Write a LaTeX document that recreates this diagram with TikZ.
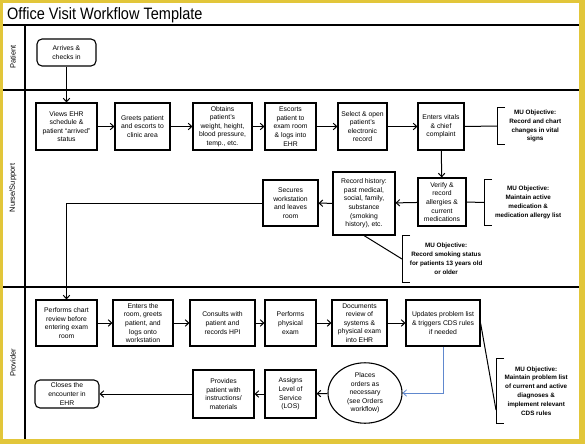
\documentclass[tikz,border=0pt]{standalone}
\usepackage{fontspec}
\setmainfont{Liberation Sans}
\usetikzlibrary{arrows.meta,shapes.geometric}
\definecolor{frameyel}{RGB}{226,198,58}
\definecolor{orderblue}{RGB}{96,136,206}
\newcommand{\boxfont}{\fontsize{6.8}{8.6}\selectfont}
\newcommand{\mufont}{\fontsize{6.3}{8.9}\selectfont\bfseries}
\begin{document}
\begin{tikzpicture}[x=1pt,y=-1pt,
    proc/.style={draw,line width=1.1pt,align=center,inner sep=1pt,font=\boxfont},
    term/.style={proc,rounded corners=5pt},
    muobj/.style={anchor=west,align=center,inner sep=1pt,font=\mufont},
    bracket/.style={line width=1pt},
    lane/.style={line width=1.4pt},
    flow/.style={-{Straight Barb[length=3.5pt,width=6.5pt]},line width=1pt},
    link/.style={line width=1pt}]
  \useasboundingbox (0,0) rectangle (585,444);
  \fill[frameyel] (0,0) rectangle (585,444);
  \fill[white] (3,3) rectangle (579,439);
  % title and lanes
  \node[anchor=base west,inner sep=0pt] (title) at (7,20)
    {\scalebox{0.88}[1]{\fontsize{16.5}{18}\selectfont Office Visit Workflow Template}};
  \draw[lane] (3,25) -- (579,25);
  \draw[lane] (3,90) -- (579,90);
  \draw[lane] (3,287) -- (579,287);
  \draw[lane] (25,25) -- (25,439);
  \node[rotate=90,font=\fontsize{7.5}{9}\selectfont] (lpat) at (13,57) {Patient};
  \node[rotate=90,font=\fontsize{7.5}{9}\selectfont] (lnur) at (13,188) {Nurse/Support};
  \node[rotate=90,font=\fontsize{7.5}{9}\selectfont] (lpro) at (13,363) {Provider};

  % patient
  \node[term,minimum width=59,minimum height=27] (arrive) at (66.5,52.5) {Arrives \&\\checks in};

  % nurse / support
  \node[proc,minimum width=61,minimum height=47] (views) at (66.5,126.5)
    {Views EHR\\schedule \&\\patient ``arrived''\\status};
  \node[proc,minimum width=55,minimum height=47] (greet) at (142.5,126.5)
    {Greets patient\\and escorts to\\clinic area};
  \node[proc,minimum width=59,minimum height=47] (obtain) at (222.5,126.5)
    {Obtains\\patient's\\weight, height,\\blood pressure,\\temp., etc.};
  \node[proc,minimum width=51,minimum height=47] (escort) at (290.5,126.5)
    {Escorts\\patient to\\exam room\\\& logs into\\EHR};
  \node[proc,minimum width=49,minimum height=47] (select) at (362.5,126.5)
    {Select \& open\\patient's\\electronic\\record};
  \node[proc,minimum width=46,minimum height=47] (vitals) at (441,126.5)
    {Enters vitals\\\& chief\\complaint};
  \node[proc,minimum width=48,minimum height=48] (verify) at (442,202)
    {Verify \&\\record\\allergies \&\\current\\medications};
  \node[proc,minimum width=62,minimum height=63] (history) at (364,203.5)
    {Record history:\\past medical,\\social, family,\\substance\\(smoking\\history), etc.};
  \node[proc,minimum width=55,minimum height=46] (secure) at (290.5,203)
    {Secures\\workstation\\and leaves\\room};

  \node[muobj,minimum width=76,minimum height=36] (mu1) at (497,126)
    {MU Objective:\\Record and chart\\changes in vital\\signs};
  \node[muobj,minimum width=88,minimum height=46] (mu2) at (484,202.5)
    {MU Objective:\\Maintain active\\medication \&\\medication allergy list};
  \node[muobj,minimum width=88,minimum height=46] (mu3) at (402,259)
    {MU Objective:\\Record smoking status\\for patients 13 years old\\or older};

  % provider
  \node[proc,minimum width=61,minimum height=46] (chart) at (66.5,323)
    {Performs chart\\review before\\entering exam\\room};
  \node[proc,minimum width=60,minimum height=46] (enter) at (143,323)
    {Enters the\\room, greets\\patient, and\\logs onto\\workstation};
  \node[proc,minimum width=65,minimum height=46] (consult) at (222.5,323)
    {Consults with\\patient and\\records HPI};
  \node[proc,minimum width=51,minimum height=46] (exam) at (290.5,323)
    {Performs\\physical\\exam};
  \node[proc,minimum width=55,minimum height=46] (docs) at (359.5,323)
    {Documents\\review of\\systems \&\\physical exam\\into EHR};
  \node[proc,minimum width=74,minimum height=46] (update) at (443,323)
    {Updates problem list\\\& triggers CDS rules\\if needed};
  \node[proc,ellipse,minimum width=74,minimum height=60] (orders) at (365,393)
    {Places\\orders as\\necessary\\(see Orders\\workflow)};
  \node[proc,minimum width=51,minimum height=48] (los) at (290.5,394)
    {Assigns\\Level of\\Service\\(LOS)};
  \node[proc,minimum width=61,minimum height=48] (provide) at (223.5,394)
    {Provides\\patient with\\instructions/\\materials};
  \node[term,minimum width=64,minimum height=28] (close) at (67,394)
    {Closes the\\encounter in\\EHR};

  \node[muobj,minimum width=80,minimum height=64] (mu4) at (496,391)
    {MU Objective:\\Maintain problem list\\of current and active\\diagnoses \&\\implement relevant\\CDS rules};

  % brackets
  \foreach \m in {mu1,mu2,mu3,mu4}
    \draw[bracket] ([xshift=8pt]\m.north west) -- (\m.north west) -- (\m.south west) -- ([xshift=8pt]\m.south west);

  % flow
  \draw[flow] (arrive) -- (views);
  \draw[flow] (views) -- (greet);
  \draw[flow] (greet) -- (obtain);
  \draw[flow] (obtain) -- (escort);
  \draw[flow] (escort) -- (select);
  \draw[flow] (select) -- (vitals);
  \draw[flow] (vitals) -- (verify);
  \draw[flow] (verify) -- (history);
  \draw[flow] (history) -- (secure);
  \draw[flow] (secure.west) -| (chart.north);
  \draw[flow] (chart) -- (enter);
  \draw[flow] (enter) -- (consult);
  \draw[flow] (consult) -- (exam);
  \draw[flow] (exam) -- (docs);
  \draw[flow] (docs) -- (update);
  \draw[flow,orderblue,line width=0.8pt] (update.south) |- (orders.east);
  \draw[flow] (orders) -- (los);
  \draw[flow] (los) -- (provide);
  \draw[flow] (provide) -- (close);

  % links to objectives
  \coordinate (b4) at (496,410);
  \draw[link] (vitals.east) -- (mu1.west);
  \draw[link] (verify.east) -- (mu2.west);
  \draw[link] (history.south) -- (mu3.west);
  \draw[link] (update.east) -- (b4);
\end{tikzpicture}
\end{document}
